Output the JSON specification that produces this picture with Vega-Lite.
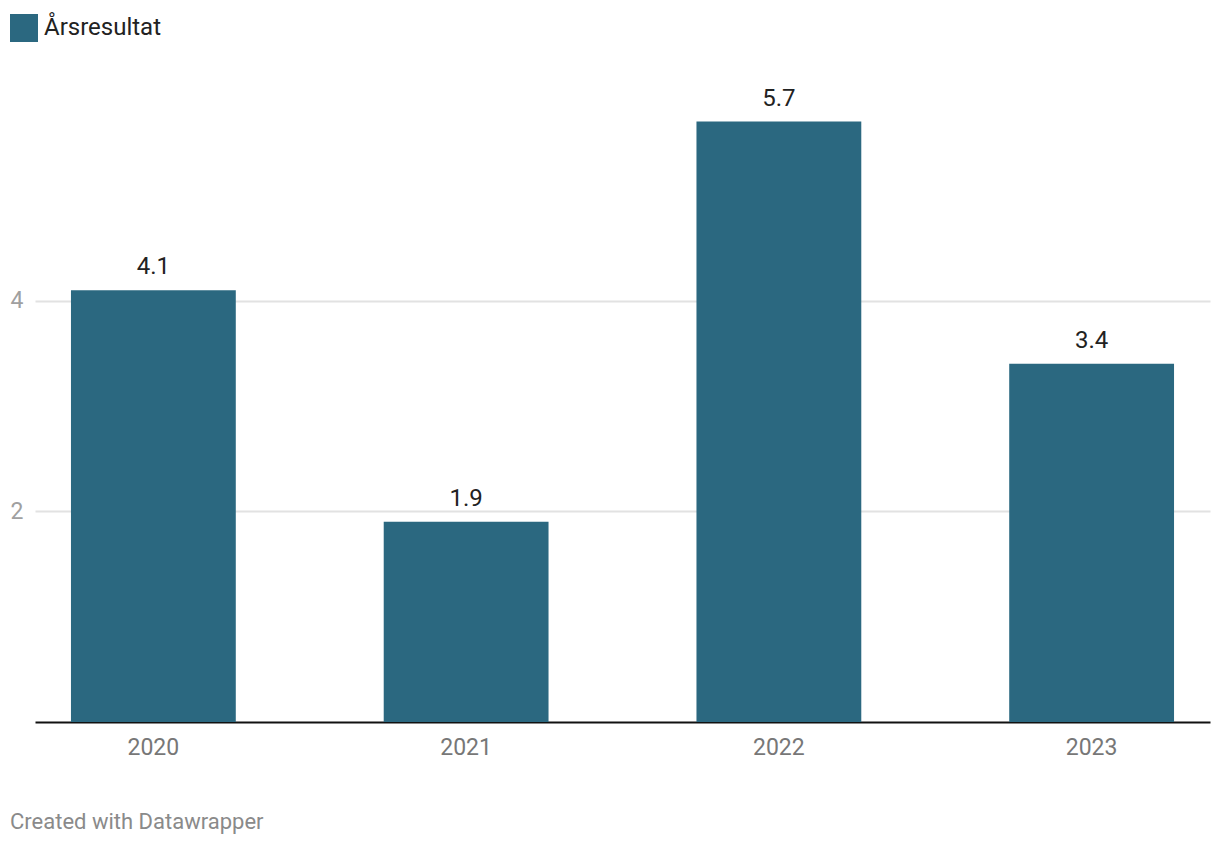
{
  "$schema": "https://vega.github.io/schema/vega-lite/v6.json",
  "autosize": {"type": "none"},
  "width": 1175,
  "height": 632,
  "padding": {"left": 35, "top": 90, "right": 10, "bottom": 124},
  "background": "white",
  "config": {
    "font": "Roboto",
    "view": {"stroke": null}
  },
  "title": {
    "text": "Created with Datawrapper",
    "orient": "bottom",
    "anchor": "start",
    "frame": "group",
    "dx": -25,
    "offset": 53,
    "fontSize": 22,
    "fontWeight": "normal",
    "color": "#8a8a8a",
    "font": "Roboto"
  },
  "data": {
    "values": [
      {"year": "2020", "value": 4.1, "series": "Årsresultat"},
      {"year": "2021", "value": 1.9, "series": "Årsresultat"},
      {"year": "2022", "value": 5.7, "series": "Årsresultat"},
      {"year": "2023", "value": 3.4, "series": "Årsresultat"}
    ]
  },
  "encoding": {
    "x": {
      "field": "year",
      "type": "nominal",
      "scale": {"paddingInner": 0.473, "paddingOuter": 0.115},
      "axis": {
        "title": null,
        "labelAngle": 0,
        "labelFontSize": 23,
        "labelColor": "#777777",
        "labelPadding": 14,
        "ticks": false,
        "domainColor": "#111111",
        "domainWidth": 2,
        "grid": false
      }
    },
    "y": {
      "field": "value",
      "type": "quantitative",
      "scale": {"domain": [0, 6], "nice": false},
      "axis": {
        "title": null,
        "values": [2, 4],
        "labelFontSize": 23,
        "labelColor": "#a0a0a0",
        "labelPadding": 12,
        "ticks": false,
        "domain": false,
        "grid": true,
        "gridColor": "#e2e2e2",
        "gridWidth": 2
      }
    }
  },
  "layer": [
    {
      "mark": {"type": "bar"},
      "encoding": {
        "color": {
          "field": "series",
          "type": "nominal",
          "scale": {"range": ["#2b6880"]},
          "legend": {
            "title": null,
            "orient": "none",
            "legendX": -25,
            "legendY": -76,
            "symbolType": "square",
            "symbolSize": 784,
            "symbolStrokeWidth": 0,
            "symbolOpacity": 1,
            "labelFontSize": 24,
            "labelColor": "#222222",
            "labelOffset": 6,
            "labelFont": "Roboto"
          }
        }
      }
    },
    {
      "mark": {"type": "text", "baseline": "alphabetic", "dy": -16, "fontSize": 24, "color": "#222222"},
      "encoding": {
        "text": {"field": "value", "type": "quantitative", "format": ".1f"}
      }
    }
  ]
}
